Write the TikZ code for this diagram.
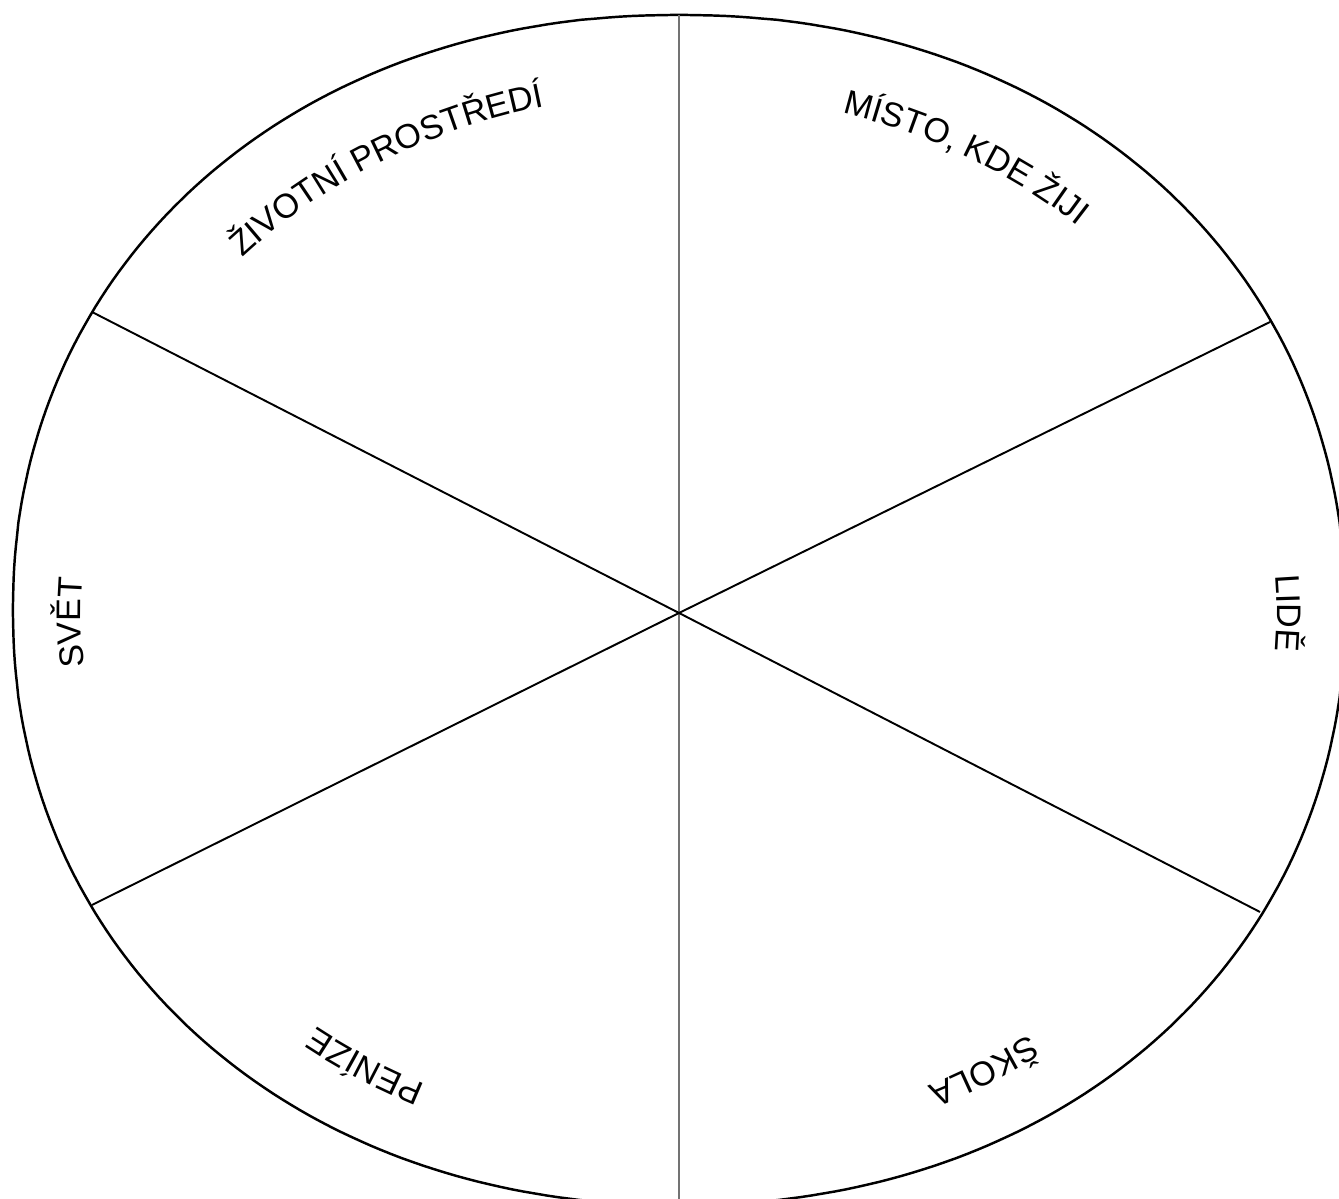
\documentclass[tikz,border=0pt]{standalone}
\usepackage{fontspec}
\setmainfont{Liberation Sans}
\usetikzlibrary{decorations.text}
\newcommand\wheelfont{\fontsize{9.7pt}{11pt}\selectfont}
\tikzset{
  rim/.style={line width=.7pt},
  spoke/.style={line width=.55pt},
  axisline/.style={line width=.55pt,black!55},
  wheel text/.style={decorate,decoration={text along path,text align=center,text={|\wheelfont|#1}}}
}
\begin{document}
\begin{tikzpicture}
\useasboundingbox(0,0)rectangle(13.39,11.99);
\clip(0,0)rectangle(13.39,11.99);
\coordinate(hub)at(6.79,5.86);
\coordinate(top)at(6.79,11.84);\coordinate(bot)at(6.79,-.2);
\coordinate(ul)at(.92,8.87);\coordinate(ur)at(12.70,8.77);
\coordinate(lr)at(12.60,2.87);\coordinate(ll)at(.92,2.94);
% rim, a little fuller than an ellipse
\draw[rim]plot[domain=.5:359.5,samples=360,variable=\t]({6.79+6.66*sign(cos(\t))*abs(cos(\t))^0.952},{5.89+5.95*sign(sin(\t))*abs(sin(\t))^0.952})--cycle;
\draw[axisline](top)--(bot);
\draw[spoke](ul)--(hub)--(lr);\draw[spoke](ur)--(hub)--(ll);
% labels run clockwise round the rim
\path[wheel text={ŽIVOTNÍ PROSTŘEDÍ}](hub)++(150.5:5.98 and 5.2)arc[start angle=150.5,end angle=90.5,x radius=5.98,y radius=5.2];
\path[wheel text={MÍSTO, KDE ŽIJI}](hub)++(90.5:5.98 and 5.2)arc[start angle=90.5,end angle=30.5,x radius=5.98,y radius=5.2];
\path[wheel text={LIDĚ}](hub)++(30:5.98 and 5.2)arc[start angle=30,end angle=-30,x radius=5.98,y radius=5.2];
\path[wheel text={ŠKOLA}](hub)++(331:5.98 and 5.2)arc[start angle=331,end angle=271,x radius=5.98,y radius=5.2];
\path[wheel text={PENÍZE}](hub)++(268:5.98 and 5.2)arc[start angle=268,end angle=208,x radius=5.98,y radius=5.2];
\path[wheel text={SVĚT}](hub)++(211:5.98 and 5.2)arc[start angle=211,end angle=151,x radius=5.98,y radius=5.2];
\end{tikzpicture}
\end{document}
